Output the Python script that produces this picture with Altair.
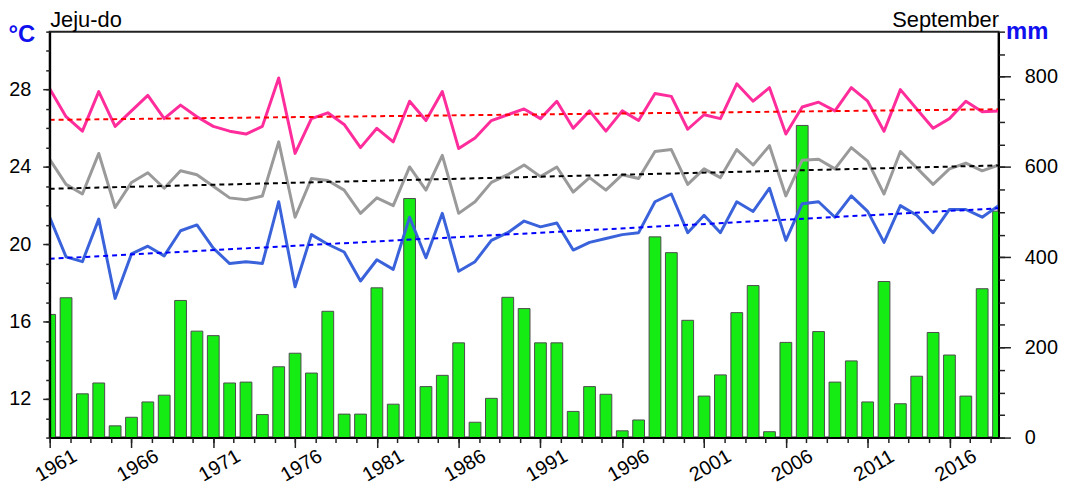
import altair as alt
import pandas as pd

years = list(range(1961, 2020))
tmax = [28.05, 26.6, 25.85, 27.9, 26.1, 26.9, 27.7, 26.5, 27.2, 26.6,
        26.1, 25.85, 25.7, 26.1, 28.6, 24.7, 26.5, 26.8, 26.2, 25.0,
        26.0, 25.3, 27.4, 26.4, 27.9, 24.95, 25.5, 26.4, 26.7, 27.0,
        26.5, 27.4, 26.0, 26.9, 25.85, 26.9, 26.4, 27.8, 27.65, 25.95,
        26.7, 26.5, 28.3, 27.4, 28.1, 25.7, 27.1, 27.35, 26.9, 28.1,
        27.4, 25.85, 28.0, 27.0, 26.0, 26.5, 27.4, 26.85, 26.9]
tavg = [24.4, 23.1, 22.6, 24.7, 21.9, 23.2, 23.7, 22.9, 23.8, 23.6,
        23.0, 22.4, 22.3, 22.5, 25.3, 21.4, 23.4, 23.3, 22.8, 21.6,
        22.4, 22.0, 24.0, 22.8, 24.6, 21.6, 22.2, 23.2, 23.6, 24.1,
        23.5, 24.0, 22.7, 23.45, 22.8, 23.6, 23.4, 24.8, 24.9, 23.1,
        23.9, 23.45, 24.9, 24.1, 25.1, 22.5, 24.35, 24.4, 23.9, 25.0,
        24.3, 22.6, 24.8, 23.95, 23.1, 23.9, 24.2, 23.8, 24.1]
tmin = [21.4, 19.35, 19.1, 21.3, 17.2, 19.5, 19.9, 19.4, 20.7, 21.0,
        19.8, 19.0, 19.1, 19.0, 22.2, 17.8, 20.5, 20.0, 19.6, 18.1,
        19.2, 18.7, 21.4, 19.3, 21.6, 18.6, 19.1, 20.2, 20.6, 21.2,
        20.9, 21.1, 19.7, 20.1, 20.3, 20.5, 20.6, 22.2, 22.6, 20.6,
        21.5, 20.6, 22.2, 21.7, 22.9, 20.2, 22.1, 22.2, 21.4, 22.5,
        21.7, 20.1, 22.0, 21.5, 20.6, 21.8, 21.8, 21.4, 22.0]
precip = [273, 310, 97, 121, 26, 45, 79, 94, 304, 236,
          226, 121, 123, 51, 157, 187, 143, 280, 52, 52,
          332, 74, 530, 113, 138, 210, 34, 87, 311, 286,
          210, 210, 58, 113, 96, 15, 39, 445, 410, 260,
          92, 139, 277, 337, 13, 211, 692, 235, 123, 170,
          79, 346, 75, 136, 233, 183, 92, 330, 502]

series = ["tmax", "tavg", "tmin"]
line_colors = ["#FF2D9B", "#9A9A9A", "#3A63DB"]
trend_colors = ["#FF0000", "#000000", "#0000FF"]
year_labels = list(range(1961, 2017, 5))
temp_labels = [12, 16, 20, 24, 28]
mm_labels = [0, 200, 400, 600, 800]

df = pd.DataFrame({"year": years, "tmax": tmax, "tavg": tavg,
                   "tmin": tmin, "precip": precip})

W, H = 956, 409
FONT = "Liberation Sans"
UNIT_BLUE = "#1010EE"

xscale = alt.Scale(domain=[1961, 2019], nice=False, zero=False)
tscale = alt.Scale(domain=[10, 31], nice=False, zero=False)
pscale = alt.Scale(domain=[0, 900], nice=False)

base = alt.Chart(df)

bars = base.transform_calculate(
    x0="datum.year - 0.36", x1="datum.year + 0.36"
).mark_bar(color="#14EC14", stroke="#4D4D4D", strokeWidth=1, clip=True).encode(
    x=alt.X("x0:Q", scale=xscale, axis=None),
    x2="x1:Q",
    y=alt.Y("precip:Q", scale=pscale, axis=alt.Axis(
        orient="right", values=mm_labels, tickSize=12, labelPadding=14,
        grid=False, zindex=1,
        title="mm", titleAngle=0, titleX=7, titleY=7, titleAlign="left",
        titleBaseline="alphabetic", titleColor=UNIT_BLUE, titleFontSize=24,
        titleFontWeight="bold")),
    y2=alt.datum(0),
)

lines = base.transform_fold(series, as_=["series", "value"]).mark_line(
    strokeWidth=3, strokeJoin="round", clip=True
).encode(
    x=alt.X("year:Q", scale=xscale, axis=alt.Axis(
        orient="bottom", values=year_labels, format="d", tickSize=10,
        labelAngle=-30, labelAlign="center", labelBaseline="middle",
        labelPadding=18, labelOffset=6, grid=False, zindex=1,
        title="September", titleX=W, titleY=-H - 5, titleAlign="right",
        titleBaseline="alphabetic", titleFontSize=22, titleFontWeight="normal",
        titleColor="black")),
    y=alt.Y("value:Q", scale=tscale, axis=alt.Axis(
        orient="left", values=temp_labels, tickSize=7, labelPadding=12,
        grid=False, zindex=1,
        title="°C", titleAngle=0, titleX=-42, titleY=10, titleAlign="left",
        titleBaseline="alphabetic", titleColor=UNIT_BLUE, titleFontSize=24,
        titleFontWeight="bold")),
    color=alt.Color("series:N", scale=alt.Scale(domain=series, range=line_colors),
                    legend=None),
)

trends = base.transform_fold(series, as_=["series", "value"]).transform_regression(
    "year", "value", groupby=["series"], extent=[1961, 2019]
).mark_line(strokeWidth=2, strokeDash=[5, 4]).encode(
    x=alt.X("year:Q", scale=xscale, axis=None),
    y=alt.Y("value:Q", scale=tscale, axis=None),
    color=alt.Color("series:N", scale=alt.Scale(domain=series, range=trend_colors),
                    legend=None),
)

minor_year = [1961 + 1.25 * k for k in range(47)]
minor_temp = list(range(10, 32))
minor_mm = list(range(0, 901, 50))

minor_left = base.mark_point(opacity=0).encode(
    x=alt.X("year:Q", scale=xscale, axis=alt.Axis(
        orient="bottom", values=minor_year, labels=False, tickSize=5,
        domain=False, grid=False, zindex=1,
        title="Jeju-do", titleX=0, titleY=-H - 5, titleAlign="left",
        titleBaseline="alphabetic", titleFontSize=22, titleFontWeight="normal",
        titleColor="black")),
    y=alt.Y("tmax:Q", scale=tscale, axis=alt.Axis(
        orient="left", values=minor_temp, labels=False, tickSize=4,
        domain=False, grid=False, title=None, zindex=1)),
)

minor_right = base.mark_point(opacity=0).encode(
    x=alt.X("year:Q", scale=xscale, axis=None),
    y=alt.Y("precip:Q", scale=pscale, axis=alt.Axis(
        orient="right", values=minor_mm, labels=False, tickSize=6,
        domain=False, grid=False, title=None, zindex=1)),
)

chart = alt.layer(bars, lines, trends, minor_left, minor_right).resolve_scale(
    x="independent", y="independent", color="independent"
).properties(
    width=W, height=H,
    autosize=alt.AutoSizeParams(type="none"),
    padding={"left": 42, "top": 22, "right": 71, "bottom": 50},
).configure_view(
    stroke="#222222", strokeWidth=2
).configure_axis(
    labelFont=FONT, titleFont=FONT, labelFontSize=20, labelColor="black",
    domainColor="black", domainWidth=2, tickColor="#222222", tickWidth=1.5,
    titlePadding=0,
)

chart.save("out.html", embed_options={"renderer": "svg", "actions": False})
